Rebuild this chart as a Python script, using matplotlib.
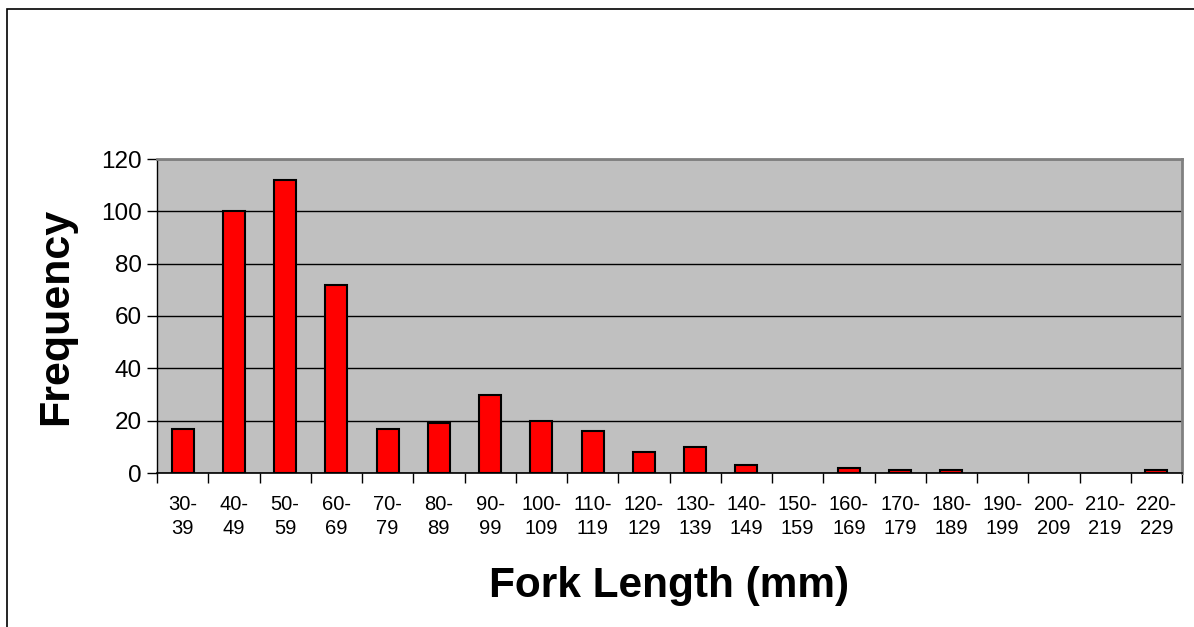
import matplotlib
matplotlib.use('Agg')
import matplotlib.pyplot as plt
from matplotlib.patches import Rectangle

plt.rcParams['font.family'] = ['Liberation Sans', 'DejaVu Sans']

# Data
BINS = ["30-\n39", "40-\n49", "50-\n59", "60-\n69", "70-\n79", "80-\n89", "90-\n99",
        "100-\n109", "110-\n119", "120-\n129", "130-\n139", "140-\n149", "150-\n159",
        "160-\n169", "170-\n179", "180-\n189", "190-\n199", "200-\n209", "210-\n219",
        "220-\n229"]
FREQ = [17, 100, 112, 72, 17, 19, 30, 20, 16, 8, 10, 3, 0, 2, 1, 1, 0, 0, 0, 1]
Y_TICKS = [0, 20, 40, 60, 80, 100, 120]

fig = plt.figure(figsize=(11.94, 6.27), dpi=100)
ax = fig.add_axes([157 / 1194, 1 - 473 / 627, (1182 - 157) / 1194, (473 - 159) / 627])

# outer chart border (cut off right and bottom)
fig.patches.append(Rectangle((7 / 1194, -0.1), 1.2, 1 - 9 / 627 + 0.1,
                             transform=fig.transFigure, fill=False,
                             edgecolor='black', linewidth=1.2))

ax.set_facecolor('#C0C0C0')
x = list(range(len(BINS)))
# empty bins get no outline
edge_w = [1.5 if f > 0 else 0 for f in FREQ]
ax.bar(x, FREQ, width=0.43, color='#FF0000', edgecolor='black', linewidth=edge_w, zorder=3)

ax.set_xlim(-0.5, len(BINS) - 0.5)
ax.set_ylim(0, 120)
ax.set_yticks(Y_TICKS)
ax.yaxis.grid(True, color='black', linewidth=1)
ax.set_axisbelow(True)

# category ticks sit on the bin boundaries, labels in the middle
ax.set_xticks([i - 0.5 for i in range(len(BINS) + 1)])
ax.set_xticklabels([])
ax.set_xticks(x, minor=True)
ax.set_xticklabels(BINS, minor=True, fontsize=14.5, linespacing=1.35)
ax.tick_params(axis='x', which='major', direction='out', length=7, width=1, color='black')
ax.tick_params(axis='x', which='minor', length=0, pad=16)
ax.tick_params(axis='y', direction='out', length=7, width=1, labelsize=17.5, pad=4)

for side in ['top', 'right']:
    ax.spines[side].set_color('#808080')
    ax.spines[side].set_linewidth(2)
ax.spines['left'].set_color('black')
ax.spines['bottom'].set_color('black')
ax.spines['left'].set_linewidth(1)
ax.spines['bottom'].set_linewidth(1.2)

ax.set_xlabel('Fork Length (mm)', fontsize=30.5, fontweight='bold', labelpad=20)
ax.set_ylabel('Frequency', fontsize=31, fontweight='bold', labelpad=18)

plt.savefig('out.png', dpi=100)
plt.close()
